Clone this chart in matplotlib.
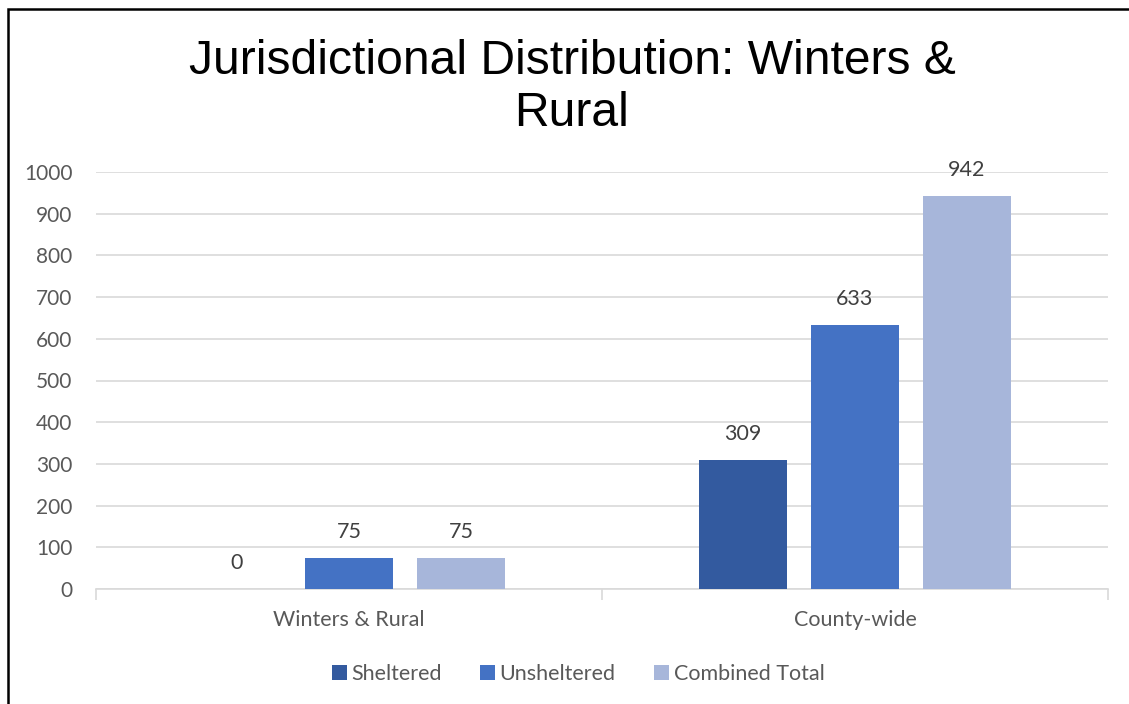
import matplotlib
matplotlib.use("Agg")
import matplotlib.pyplot as plt
import numpy as np
from matplotlib.patches import Rectangle

categories = ["Winters & Rural", "County-wide"]
series_names = ["Sheltered", "Unsheltered", "Combined Total"]
sheltered = [0, 309]
unsheltered = [75, 633]
combined = [75, 942]
yticks = [0, 100, 200, 300, 400, 500, 600, 700, 800, 900, 1000]

colors = ["#335a9f", "#4472c4", "#a7b6da"]
txt = "#595959"
W, H = 1129, 704

plt.rcParams['font.family'] = ['Lato', 'DejaVu Sans']

fig = plt.figure(figsize=(W / 100, H / 100), dpi=100)
ax = fig.add_axes([96 / W, 1 - 589 / H, (1108 - 96) / W, (589 - 172) / H])

x = np.arange(len(categories))
bw = 88 / 506
step = 112 / 506
for i, (name, vals) in enumerate(zip(series_names, [sheltered, unsheltered, combined])):
    pos = x + (i - 1) * step
    ax.bar(pos, vals, width=bw, color=colors[i], label=name, zorder=3)
    for p, v in zip(pos, vals):
        ax.text(p, v + 62, str(v), ha='center', va='center', fontsize=15.5,
                color="#404040", clip_on=False)

ax.set_xlim(-0.5, 1.5)
ax.set_ylim(0, 1000)
ax.set_yticks(yticks)
ax.tick_params(axis='y', length=0, labelsize=15, labelcolor=txt, pad=17)
ax.yaxis.grid(True, color="#d9d9d9", linewidth=1.2, zorder=0)
ax.set_xticks([-0.5, 0.5, 1.5])
ax.set_xticklabels([])
ax.tick_params(axis='x', length=8, color="#d9d9d9", width=1.2)
for c, xc in zip(categories, x):
    ax.text(xc, -0.075, c, transform=ax.get_xaxis_transform(), ha='center', va='center',
            fontsize=15.5, color=txt)
for s in ['top', 'right', 'left']:
    ax.spines[s].set_visible(False)
ax.spines['bottom'].set_color("#d9d9d9")
ax.spines['bottom'].set_linewidth(1.2)

fig.text(572 / W, 1 - 61 / H, "Jurisdictional Distribution: Winters &", ha='center', va='center',
         fontsize=34.6, family=['Liberation Sans', 'DejaVu Sans'], color='black')
fig.text(572 / W, 1 - 114 / H, "Rural", ha='center', va='center',
         fontsize=34.6, family=['Liberation Sans', 'DejaVu Sans'], color='black')

fig.legend(loc='center', bbox_to_anchor=(578 / W, 1 - 674 / H), ncol=3, frameon=False,
           fontsize=15.5, labelcolor=txt, handlelength=0.7, handleheight=0.7,
           handletextpad=0.2, columnspacing=1.8)

fig.patches.append(Rectangle((8 / W, -0.1), 1.2, 1 - 9 / H + 0.1, transform=fig.transFigure,
                             fill=False, edgecolor='black', linewidth=1.8))

fig.savefig("out.png", dpi=100)
